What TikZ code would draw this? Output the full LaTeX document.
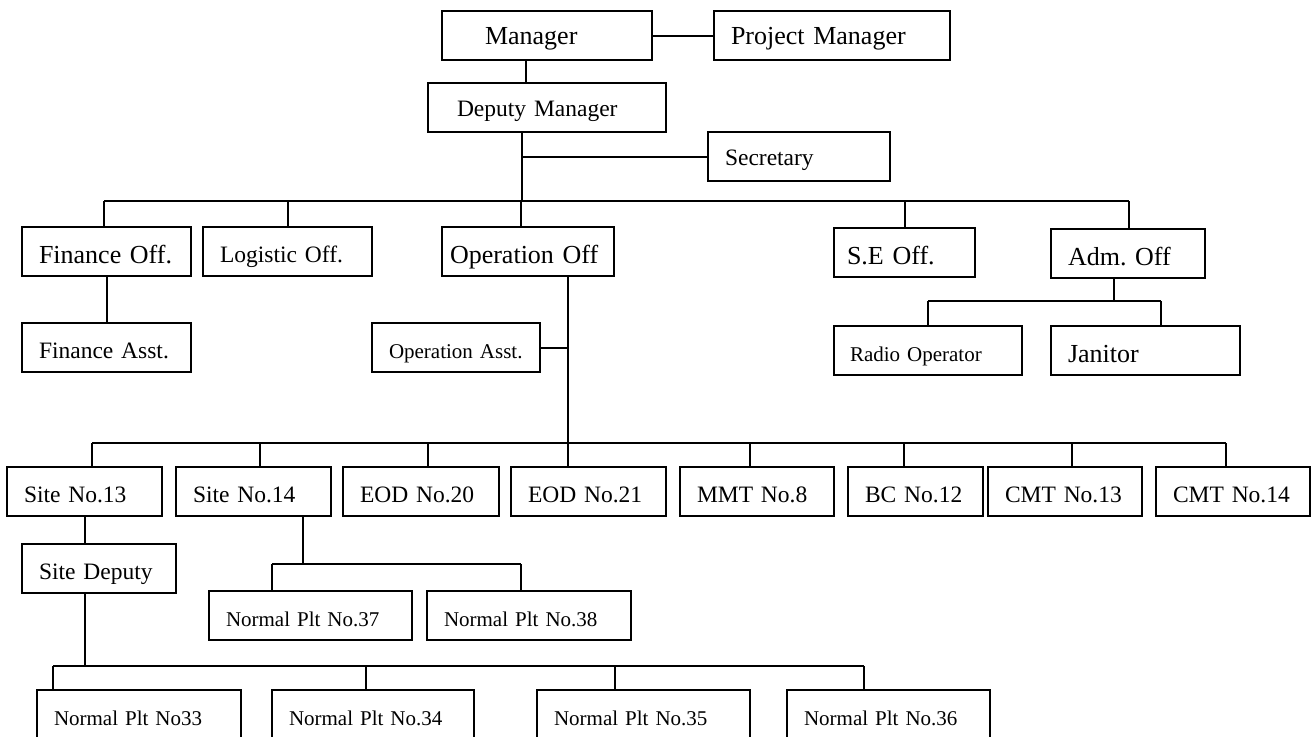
\documentclass[tikz,border=0pt]{standalone}
\usepackage{fontspec}
\setmainfont{Liberation Serif}
\frenchspacing
\begin{document}
\begin{tikzpicture}[x=1pt, y=-1pt, line width=2pt,
    box/.style={draw, anchor=north west, align=left, inner xsep=17pt, inner ysep=0pt,
                outer sep=0pt, minimum height=49pt, text depth=0pt},
    fbig/.style={font=\fontsize{26}{30}\selectfont, text height=24pt},
    fmid/.style={font=\fontsize{23.5}{28}\selectfont, text height=22.5pt},
    fsmall/.style={font=\fontsize{21}{25}\selectfont, text height=21pt}]

    % 0. 画布大小 (与原图一致)
    \path[use as bounding box] (0,0) rectangle (1316,736);
    \clip (0,0) rectangle (1316,736);

    % 1. 顶层: 经理, 项目经理, 副经理, 秘书
    \node[box, fbig, text height=17pt, text width=124pt, inner xsep=43pt] (mgr) at (442,11) {Manager};
    \node[box, fbig, text height=17pt, text width=202pt] (pm) at (714,11) {Project Manager};
    \node[box, fmid, text height=17pt, text width=180pt, inner xsep=29pt] (dep) at (428,83) {Deputy Manager};
    \node[box, fmid, text height=17pt, text width=148pt] (sec) at (708,132) {Secretary};

    \draw (mgr.east) -- (pm.west);
    \draw ([xshift=-21pt]mgr.south) -- ([xshift=-21pt]dep.north);
    \coordinate (j1) at (522,201);
    \draw ([xshift=-25pt]dep.south) -- (j1);
    \draw (sec.west) -- (sec.west -| j1);

    % 2. 各科室
    \node[box, fbig, text width=135pt] (fin) at (22,227) {Finance Off.};
    \node[box, fmid, text width=135pt] (log) at (203,227) {Logistic Off.};
    \node[box, fbig, text width=156pt, inner xsep=8pt] (ops) at (442,227) {Operation Off};
    \node[box, fbig, text width=115pt, inner xsep=13pt] (se) at (834,228) {S.E Off.};
    \node[box, fbig, text width=120pt] (adm) at (1051,229) {Adm. Off};

    \draw ([xshift=-2.5pt]fin.north |- j1) -- ([xshift=1pt]adm.north |- j1);
    \foreach \n/\dx in {fin/-2.5, log/0.5, ops/-7, se/0, adm/1}
        \draw ([xshift=\dx pt]\n.north) -- ([xshift=\dx pt]\n.north |- j1);

    % 3. 助理与行政下属
    \node[box, fmid, text width=135pt] (fina) at (22,323) {Finance Asst.};
    \node[box, fsmall, text width=134pt] (opsa) at (372,323) {Operation Asst.};
    \node[box, fsmall, text width=156pt, inner xsep=16pt] (radio) at (834,326) {Radio Operator};
    \node[box, fbig, text width=155pt] (jan) at (1051,326) {Janitor};

    \draw (fin.south) -- (fina.north);
    \coordinate (j2) at (568,443);
    \draw ([xshift=40pt]ops.south) -- (j2);
    \draw (opsa.east) -- (opsa.east -| j2);

    \coordinate (j3) at (1114,301);
    \draw ([xshift=-14pt]adm.south) -- (j3);
    \draw (radio.north |- j3) -- ([xshift=15.5pt]jan.north |- j3);
    \draw (radio.north) -- (radio.north |- j3);
    \draw ([xshift=15.5pt]jan.north) -- ([xshift=15.5pt]jan.north |- j3);

    % 4. 各分队
    \foreach \n/\x/\w/\t in {s13/7/121/Site No.13, s14/176/121/Site No.14,
            e20/343/122/EOD No.20, e21/511/121/EOD No.21, mmt/680/120/MMT No.8,
            bc/848/101/BC No.12, c13/988/120/CMT No.13, c14/1156/120/CMT No.14}
        \node[box, fmid, text width=\w pt] (\n) at (\x,467) {\t};

    \draw ([xshift=7.5pt]s13.north |- j2) -- ([xshift=-7pt]c14.north |- j2);
    \foreach \n/\dx in {s13/7.5, s14/6.5, e20/7, e21/-20.5, mmt/-7, bc/-11.5, c13/7, c14/-7}
        \draw ([xshift=\dx pt]\n.north) -- ([xshift=\dx pt]\n.north |- j2);

    % 5. 副站长与排
    \node[box, fmid, text width=120pt] (sdep) at (22,544) {Site Deputy};
    \node[box, fsmall, text width=169pt] (n37) at (209,591) {Normal Plt No.37};
    \node[box, fsmall, text width=170pt] (n38) at (427,591) {Normal Plt No.38};

    \draw (s13.south) -- (s13.south |- sdep.north);
    \coordinate (j4) at (303,564);
    \draw ([xshift=49.5pt]s14.south) -- (j4);
    \draw ([xshift=-38.5pt]n37.north |- j4) -- ([xshift=-8pt]n38.north |- j4);
    \foreach \n/\dx in {n37/-38.5, n38/-8}
        \draw ([xshift=\dx pt]\n.north) -- ([xshift=\dx pt]\n.north |- j4);

    % 6. 底层各排 (下边框超出画面)
    \foreach \n/\x/\w/\t in {n33/37/170/Normal Plt No33, n34/272/168/Normal Plt No.34,
            n35/537/179/Normal Plt No.35, n36/787/169/Normal Plt No.36}
        \node[box, fsmall, text width=\w pt] (\n) at (\x,690) {\t};

    \coordinate (j5) at (85,666);
    \draw ([xshift=-14pt]sdep.south) -- (j5);
    \draw ([xshift=-86pt]n33.north |- j5) -- ([xshift=-24.5pt]n36.north |- j5);
    \foreach \n/\dx in {n33/-86, n34/-7, n35/-28.5, n36/-24.5}
        \draw ([xshift=\dx pt]\n.north) -- ([xshift=\dx pt]\n.north |- j5);

\end{tikzpicture}
\end{document}
